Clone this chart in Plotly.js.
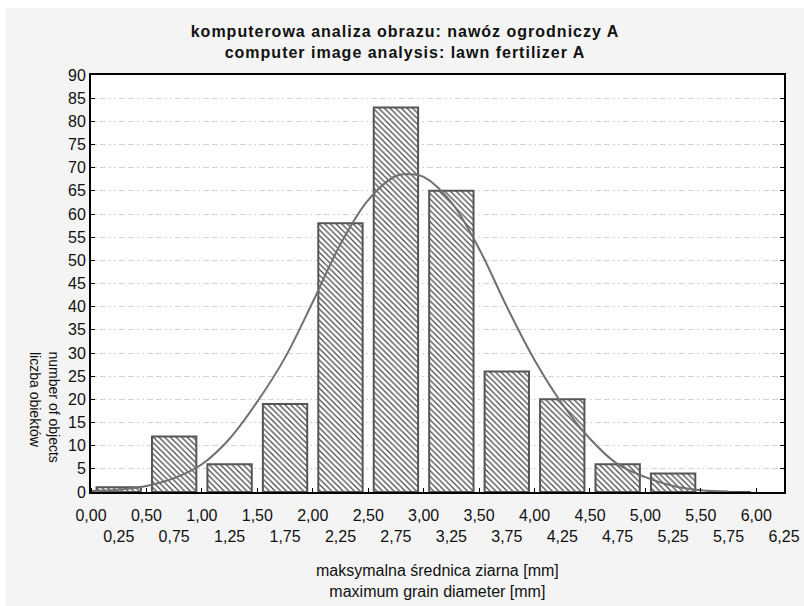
<!DOCTYPE html>
<html>
<head>
<meta charset="utf-8">
<script src="https://cdn.plot.ly/plotly-3.0.1.min.js"></script>
<style>
html,body{margin:0;padding:0;background:#ffffff;}
#chart{position:absolute;left:6px;top:8px;width:798px;height:598px;}
#chart .gtitle{letter-spacing:1px;}
</style>
</head>
<body>
<div id="chart"></div>
<script>
// Histogram bins (bin centres, width 0.5 mm) and counts
const binCenters = [0.25, 0.75, 1.25, 1.75, 2.25, 2.75, 3.25, 3.75, 4.25, 4.75, 5.25, 5.75];
const counts     = [1, 12, 6, 19, 58, 83, 65, 26, 20, 6, 4, 0];

// Fitted normal curve
const curveX = [0.0, 0.25, 0.5, 0.75, 1.0, 1.25, 1.5, 1.75, 2.0, 2.25, 2.5, 2.75, 2.875, 3.0, 3.25, 3.5, 3.75, 4.0, 4.25, 4.5, 4.75, 5.0, 5.25, 5.5, 5.75];
const curveY = [0.2, 0.5, 1.3, 3.0, 6.0, 11.5, 19.5, 29, 41, 53.5, 63, 68.2, 68.6, 68, 62.5, 52.5, 40, 28.5, 19, 11.5, 6, 3.2, 1.3, 0.4, 0.1];

// Tick labels
const xTickVals = [0, 0.25, 0.5, 0.75, 1.0, 1.25, 1.5, 1.75, 2.0, 2.25, 2.5, 2.75, 3.0, 3.25, 3.5, 3.75, 4.0, 4.25, 4.5, 4.75, 5.0, 5.25, 5.5, 5.75, 6.0, 6.25];
const xTickLabels = ["0,00","0,25","0,50","0,75","1,00","1,25","1,50","1,75","2,00","2,25","2,50","2,75","3,00","3,25","3,50","3,75","4,00","4,25","4,50","4,75","5,00","5,25","5,50","5,75","6,00","6,25"];

const titleText = "komputerowa analiza obrazu: nawóz ogrodniczy A<br>computer image analysis: lawn fertilizer A";
const xTitleText = "maksymalna średnica ziarna [mm]<br>maximum grain diameter [mm]";
const yTitleEn = "number of objects";
const yTitlePl = "liczba obiektów";

const xTickText = xTickLabels.map((t, i) => (i % 2 === 0 ? t : " <br>" + t));

const font = "Arial, 'Liberation Sans', sans-serif";

const traces = [
  {
    type: "bar",
    x: binCenters,
    y: counts,
    width: 0.4,
    marker: {
      color: "#ffffff",
      line: {color: "#555555", width: 2},
      pattern: {shape: "\\", fgcolor: "#444444", bgcolor: "#ffffff", size: 4, solidity: 0.3}
    },
    hoverinfo: "skip"
  },
  {
    type: "scatter",
    mode: "lines",
    x: curveX,
    y: curveY,
    line: {color: "#707070", width: 2, shape: "spline"},
    hoverinfo: "skip"
  }
];

const layout = {
  width: 798,
  height: 598,
  paper_bgcolor: "#f4f4f4",
  plot_bgcolor: "#ffffff",
  margin: {l: 85, r: 20, t: 67, b: 114},
  showlegend: false,
  font: {family: font, color: "#111111", size: 16},
  title: {
    text: titleText,
    font: {family: font, size: 16, color: "#111111", weight: "bold"},
    xref: "container", x: 0.5, xanchor: "center",
    yref: "container", y: 0.952, yanchor: "top"
  },
  xaxis: {
    range: [0, 6.25],
    tickvals: xTickVals,
    ticktext: xTickText,
    tickangle: 0,
    ticks: "",
    showline: true, linecolor: "#000000", linewidth: 2, mirror: true,
    showgrid: false, zeroline: false,
    tickfont: {family: font, size: 16, color: "#111111"},
    ticklabelstandoff: 8,
    minor: {tickmode: "linear", tick0: 0, dtick: 0.5, ticks: "inside", ticklen: 4, tickcolor: "#000000", showgrid: false}
  },
  yaxis: {
    range: [0, 90],
    tickmode: "linear", tick0: 0, dtick: 5,
    ticks: "inside", ticklen: 4, tickcolor: "#000000", tickwidth: 1,
    showline: true, linecolor: "#000000", linewidth: 2, mirror: "ticks",
    showgrid: true, gridcolor: "#d4d4d4", gridwidth: 1, griddash: "6px,3px,6px,3px,2px,3px,2px,3px",
    zeroline: false,
    tickfont: {family: font, size: 16, color: "#111111"}
  },
  annotations: [
    {
      text: xTitleText,
      xref: "paper", yref: "paper",
      x: 0.5, y: -0.2146, xanchor: "center", yanchor: "middle",
      showarrow: false,
      font: {family: font, size: 16, color: "#111111"}
    },
    {
      text: yTitleEn,
      xref: "paper", yref: "paper",
      x: -0.052, y: 0.3405, xanchor: "center", yanchor: "top",
      textangle: 90,
      showarrow: false,
      font: {family: font, size: 14, color: "#111111"}
    },
    {
      text: yTitlePl,
      xref: "paper", yref: "paper",
      x: -0.0808, y: 0.3405, xanchor: "center", yanchor: "top",
      textangle: 90,
      showarrow: false,
      font: {family: font, size: 14, color: "#111111"}
    }
  ]
};

Plotly.newPlot("chart", traces, layout, {staticPlot: true, displayModeBar: false});
</script>
</body>
</html>
